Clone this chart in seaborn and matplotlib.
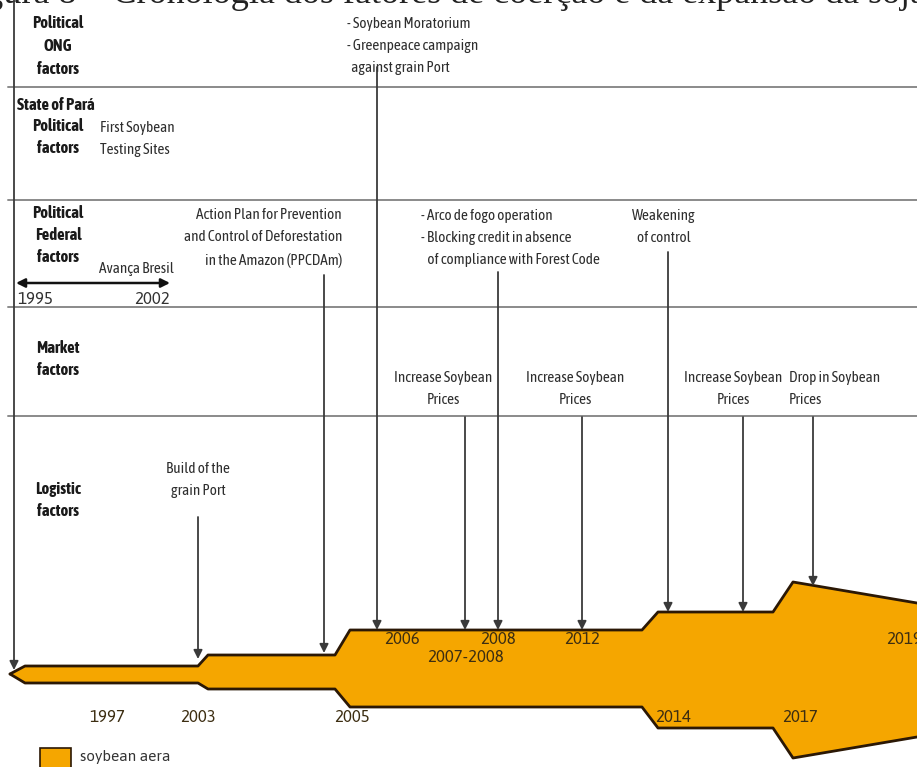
import matplotlib
matplotlib.use("Agg")
import matplotlib.pyplot as plt
import seaborn as sns
import pandas as pd

# ---- data (schematic timeline, pixel-like units) ----
band_pos = [10, 25, 198, 208, 335, 350, 642, 658, 773, 793, 917]
band_upper = [674, 666, 666, 655, 655, 630, 630, 612, 612, 582, 603]
band_lower = [674, 683, 683, 689, 689, 707, 707, 728, 728, 758, 737]

row_names = ["Political\nONG\nfactors", "Political\nfactors",
             "Political\nFederal\nfactors", "Market\nfactors", "Logistic\nfactors"]
row_label_y = [46, 137, 235, 359, 500]
row_lines = [87, 200, 307, 416]

arrow_x = [14, 198, 324, 377, 465, 498, 582, 668, 743, 813]
arrow_from = [0, 517, 275, 67, 417, 272, 417, 252, 417, 417]
arrow_to = [670, 659, 653, 630, 630, 630, 630, 612, 612, 586]

upper_years = ["2006", "2007-2008", "2008", "2012", "2019"]
upper_year_x = [402, 465, 498, 582, 904]
upper_year_y = [640, 658, 640, 640, 640]
lower_years = ["1997", "2003", "2005", "2014", "2017"]
lower_year_x = [107, 198, 352, 673, 800]

sns.set_theme(style="white")
plt.rcParams["font.family"] = ["Asap Condensed", "Barlow Semi Condensed", "DejaVu Sans"]

fig = plt.figure(figsize=(9.17, 7.67), dpi=100)
ax = fig.add_axes([0, 0, 1, 1])

# clipped caption from the page above
ax.text(-45, 3, "Figura 8 – Cronologia dos fatores de coerção e da expansão da soja,",
        family="Liberation Serif", fontsize=26, color="#222222", va="baseline")

# row separators
for y in row_lines:
    ax.plot([8, 917], [y, y], color="#8a8a8a", lw=1.4)

# soybean band
band = pd.DataFrame({"x": band_pos, "top": band_upper, "bot": band_lower})
ax.fill_between(band["x"], band["top"], band["bot"], color="#F5A600", lw=0, zorder=2)
sns.lineplot(data=band, x="x", y="top", ax=ax, color="#2b1805", lw=2, zorder=3, sort=False)
sns.lineplot(data=band, x="x", y="bot", ax=ax, color="#2b1805", lw=2, zorder=3, sort=False)
ax.set_xlim(0, 917)
ax.set_ylim(767, 0)
ax.axis("off")

# event arrows
for x, y0, y1 in zip(arrow_x, arrow_from, arrow_to):
    ax.annotate("", xy=(x, y1), xytext=(x, y0),
                arrowprops=dict(arrowstyle="-|>", color="#3a3a3a", lw=1.3,
                                mutation_scale=13, shrinkA=0, shrinkB=0), zorder=4)

# row labels
bold = dict(fontsize=12, fontweight="bold", color="#1a1a1a", ha="center",
            va="center", linespacing=1.5)
for name, y in zip(row_names, row_label_y):
    ax.text(58, y, name, **bold)
ax.text(17, 105, "State of Pará", fontsize=12, fontweight="bold", color="#1a1a1a",
        va="center")

norm = dict(fontsize=11, color="#2e2e2e", va="center", linespacing=1.7)
ax.text(100, 139, "First Soybean\nTesting Sites", ha="left", **norm)
ax.text(347, 46, "- Soybean Moratorium\n- Greenpeace campaign\n  against grain Port",
        ha="left", **norm)
ax.text(342, 238, "Action Plan for Prevention\nand Control of Deforestation\nin the Amazon (PPCDAm)",
        ha="right", multialignment="right", **norm)
ax.text(421, 238, "- Arco de fogo operation\n- Blocking credit in absence\n   of compliance with Forest Code",
        ha="left", **norm)
ax.text(664, 227, "Weakening\nof control", ha="center", **norm)
ax.text(443, 389, "Increase Soybean\nPrices", ha="center", **norm)
ax.text(575, 389, "Increase Soybean\nPrices", ha="center", **norm)
ax.text(733, 389, "Increase Soybean\nPrices", ha="center", **norm)
ax.text(789, 389, "Drop in Soybean\nPrices", ha="left", **norm)
ax.text(198, 480, "Build of the\ngrain Port", ha="center", **norm)

# Avança Brasil period
ax.text(136, 269, "Avança Bresil", ha="center", **norm)
ax.annotate("", xy=(170, 283), xytext=(16, 283),
            arrowprops=dict(arrowstyle="<|-|>", color="#111111", lw=1.8,
                            mutation_scale=13, shrinkA=0, shrinkB=0))
ax.text(17, 300, "1995", ha="left", fontsize=12, color="#333333", va="center",
        family=["Asap", "DejaVu Sans"])
ax.text(170, 300, "2002", ha="right", fontsize=12, color="#333333", va="center",
        family=["Asap", "DejaVu Sans"])

# year labels on the band
yr = dict(fontsize=12, color="#3d2e12", va="center", zorder=5,
          family=["Asap", "DejaVu Sans"])
for t, x, y in zip(upper_years, upper_year_x, upper_year_y):
    ax.text(x, y, t, ha="center", **yr)
for t, x in zip(lower_years, lower_year_x):
    ax.text(x, 718, t, ha="center", **yr)

# legend
ax.add_patch(plt.Rectangle((40, 748), 31, 25, facecolor="#F5A600",
                           edgecolor="#2b1805", lw=1.2, zorder=5))
ax.text(80, 757, "soybean aera", fontsize=11, color="#333333", va="center",
        family=["Asap", "DejaVu Sans"])

fig.savefig("out.png", dpi=100)
